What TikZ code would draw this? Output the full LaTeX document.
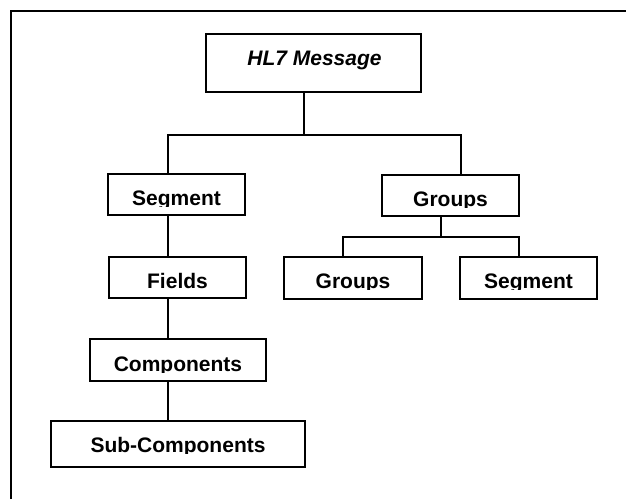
\documentclass[tikz,border=0pt]{standalone}
\usepackage{fontspec}
\setmainfont{Liberation Sans}
\tikzset{
  bx/.style={draw, line width=1.3pt, inner sep=0pt, outer sep=0pt},
  lbl/.style={font=\bfseries\fontsize{21}{25}\selectfont, inner sep=0pt, outer sep=0pt, anchor=base},
  conn/.style={line width=1.3pt},
  frameline/.style={line width=2pt}
}
% name, x1, y1, x2, y2, baseline, text  (text clipped just below its baseline)
\newcommand\hbx[7]{%
  \node[bx, minimum width={(#4-#2)*1pt}, minimum height={(#5-#3)*1pt}] (#1) at ({(#2+#4)/2},{(#3+#5)/2}) {};
  \begin{scope}
    \clip (#2,#3) rectangle (#4,#6+1.5);
    \node[lbl] (#1-t) at ({(#2+#4)/2},#6) {#7};
  \end{scope}%
}
\begin{document}
\begin{tikzpicture}[x=1pt, y=-1pt]
\useasboundingbox (0,0) rectangle (626,499);
\draw[frameline] (11,499) -- (11,11) -- (626,11);

% root
\node[bx, minimum width=215pt, minimum height=58pt] (hl7) at (313.5,63) {};
\node[lbl, font=\bfseries\itshape\fontsize{21}{25}\selectfont] (hl7-t) at (314.5,65) {HL7 Message};

\hbx{seg}{108}{174}{245}{215}{205}{Segment}
\hbx{grp}{382}{175}{519}{216}{206}{Groups}
\hbx{grp2}{284}{257}{422}{299}{288}{Groups}
\hbx{seg2}{460}{257}{597}{299}{288}{Segment}
\hbx{fld}{109}{257}{246}{298}{288}{Fields}
\hbx{cmp}{90}{339}{266}{381}{371}{Components}
\hbx{sub}{51}{421}{305}{467}{452}{Sub-Components}

\coordinate (L) at (168,0);
\coordinate (R) at (461,0);
\coordinate (j1) at (304,135);
\coordinate (j2) at (441,237);
\coordinate (GL) at (343,0);
\coordinate (GR) at (519,0);

\draw[conn] (hl7.south -| j1) -- (j1);
\draw[conn] (seg.north -| L) -- (L |- j1) -- (R |- j1) -- (grp.north -| R);
\draw[conn] (grp.south -| j2) -- (j2);
\draw[conn] (grp2.north -| GL) -- (GL |- j2) -- (GR |- j2) -- (seg2.north -| GR);
\draw[conn] (seg.south -| L) -- (fld.north -| L);
\draw[conn] (fld.south -| L) -- (cmp.north -| L);
\draw[conn] (cmp.south -| L) -- (sub.north -| L);
\end{tikzpicture}
\end{document}
